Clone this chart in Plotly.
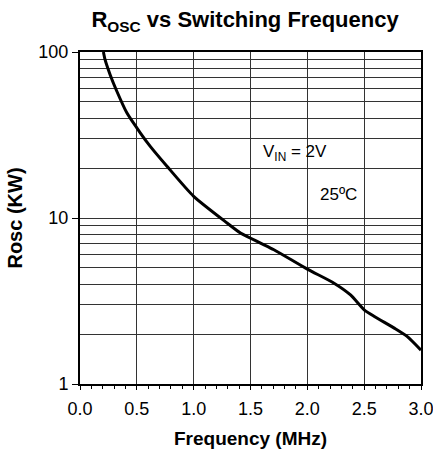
import plotly.graph_objects as go

freq_mhz = [0.206, 0.22, 0.265, 0.324, 0.412, 0.53, 0.618, 0.765, 1.0, 1.294,
            1.412, 1.588, 1.706, 2.0, 2.235, 2.38, 2.5, 2.59, 2.765, 2.88, 3.0]
rosc_k = [100, 90.2, 73, 58, 43, 32.6, 27, 20.5, 13.5, 9.33,
          8.12, 7.06, 6.44, 4.92, 4.05, 3.44, 2.80, 2.55, 2.17, 1.93, 1.60]

x_ticks = [0.0, 0.5, 1.0, 1.5, 2.0, 2.5, 3.0]
x_labels = ["0.0", "0.5", "1.0", "1.5", "2.0", "2.5", "3.0"]
y_ticks = [1, 10, 100]
y_labels = ["1", "10", "100"]
y_minor = [2, 3, 4, 5, 6, 7, 8, 9, 20, 30, 40, 50, 60, 70, 80, 90]

FONT = "Liberation Sans, Arial, sans-serif"

fig = go.Figure()
fig.add_trace(go.Scatter(x=freq_mhz, y=rosc_k, mode="lines",
                         line=dict(color="black", width=3, shape="spline", smoothing=0.6),
                         showlegend=False, hoverinfo="skip"))

fig.update_layout(
    width=433, height=457,
    margin=dict(l=80, r=12, t=52, b=73, autoexpand=False),
    paper_bgcolor="white", plot_bgcolor="white",
    hovermode=False,
    font=dict(family=FONT, color="black", size=17),
    title=dict(text="<b>R<sub>OSC</sub> vs Switching Frequency</b>", x=0.566, xanchor="center",
               y=0.958, yanchor="middle", font=dict(size=22, family=FONT)),
    xaxis=dict(range=[0, 3], tickvals=x_ticks, ticktext=x_labels,
               showgrid=True, gridcolor="#333", gridwidth=1,
               showline=True, linecolor="black", linewidth=2, mirror=True,
               ticks="outside", ticklen=4, tickcolor="black", ticklabelstandoff=3,
               minor=dict(dtick=0.1, ticks="outside", ticklen=3, tickcolor="black", showgrid=False),
               zeroline=False, ticklabeloverflow="allow", automargin=False,
               title=dict(text="<b>Frequency (MHz)</b>", font=dict(size=19, family=FONT), standoff=14),
               tickfont=dict(size=18)),
    yaxis=dict(type="log", range=[0, 2], tickvals=y_ticks, ticktext=y_labels,
               showgrid=True, gridcolor="#333", gridwidth=1,
               showline=True, linecolor="black", linewidth=2, mirror=True,
               ticks="outside", ticklen=6, tickcolor="black",
               minor=dict(tickvals=y_minor, ticks="", showgrid=True, gridcolor="#333", gridwidth=1),
               zeroline=False, automargin=False,
               title=dict(text="<b>Rosc (KW)</b>", font=dict(size=20, family=FONT), standoff=10),
               tickfont=dict(size=18)),
    annotations=[
        dict(x=1.89, y=1.394, xref="x", yref="y", text="V<sub>IN</sub> = 2V", showarrow=False,
             font=dict(size=17, family=FONT), xanchor="center", yanchor="middle"),
        dict(x=2.27, y=1.141, xref="x", yref="y", text="25ºC", showarrow=False,
             font=dict(size=17, family=FONT), xanchor="center", yanchor="middle"),
    ],
)

fig.write_html("out.html", config={"displayModeBar": False},
               post_script="document.body.style.margin='0';document.body.style.overflow='hidden';")
